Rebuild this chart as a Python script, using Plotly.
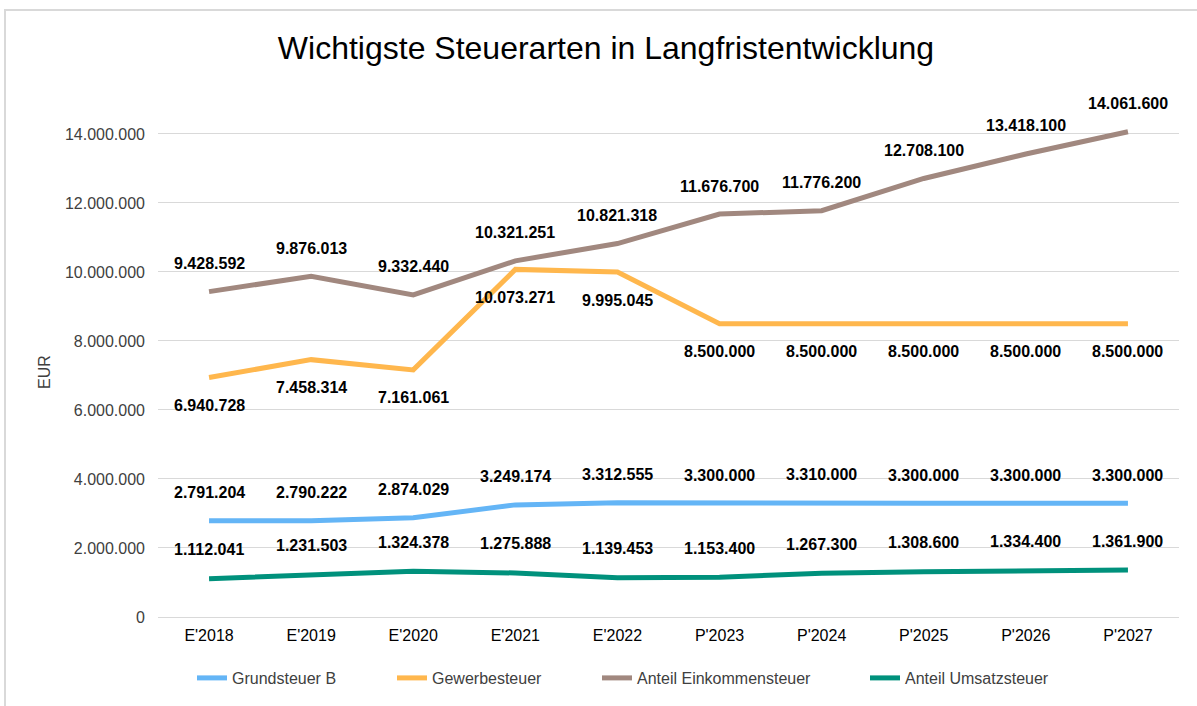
import plotly.graph_objects as go

categories = ["E'2018", "E'2019", "E'2020", "E'2021", "E'2022",
              "P'2023", "P'2024", "P'2025", "P'2026", "P'2027"]
grundsteuer_b = [2791204, 2790222, 2874029, 3249174, 3312555,
                 3300000, 3310000, 3300000, 3300000, 3300000]
gewerbesteuer = [6940728, 7458314, 7161061, 10073271, 9995045,
                 8500000, 8500000, 8500000, 8500000, 8500000]
einkommensteuer = [9428592, 9876013, 9332440, 10321251, 10821318,
                   11676700, 11776200, 12708100, 13418100, 14061600]
umsatzsteuer = [1112041, 1231503, 1324378, 1275888, 1139453,
                1153400, 1267300, 1308600, 1334400, 1361900]
y_ticks = [0, 2000000, 4000000, 6000000, 8000000, 10000000, 12000000, 14000000]

FONT = "Liberation Sans, Arial, sans-serif"
W, H = 1197, 706
L, R, T, B = 158, 18, 127, 89
PW, PH = W - L - R, H - T - B

series = [
    ("Grundsteuer B", grundsteuer_b, "#64B5F6", 28, "legend", 192),
    ("Gewerbesteuer", gewerbesteuer, "#FFB74D", -28, "legend2", 392),
    ("Anteil Einkommensteuer", einkommensteuer, "#A1887F", 28, "legend3", 597),
    ("Anteil Umsatzsteuer", umsatzsteuer, "#00917C", 29, "legend4", 865),
]

def fmt(v):
    return f"{v:,}".replace(",", ".")

fig = go.Figure()
annotations = []
legends = {}
for name, vals, color, shift, leg, lx in series:
    fig.add_trace(go.Scatter(x=categories, y=vals, name=name, mode="lines",
                             line=dict(color=color, width=5),
                             legend=leg, showlegend=True, hoverinfo="x+y+name"))
    legends[leg] = dict(orientation="h", x=(lx - L) / PW, xanchor="left",
                        y=(T + PH - 678) / PH, yanchor="middle",
                        font=dict(family=FONT, size=16, color="#404040"),
                        bgcolor="rgba(0,0,0,0)", visible=True)
    for c, v in zip(categories, vals):
        annotations.append(dict(x=c, y=v, text=fmt(v), showarrow=False,
                                yshift=shift, xref="x", yref="y",
                                font=dict(family=FONT, size=16,
                                          color="#000000", weight="bold")))

fig.update_layout(
    width=W, height=H,
    showlegend=True,
    margin=dict(l=L, r=R, t=T, b=B, autoexpand=False),
    paper_bgcolor="white", plot_bgcolor="white",
    separators=",.",
    font=dict(family=FONT, size=16, color="#404040"),
    title=dict(text="Wichtigste Steuerarten in Langfristentwicklung",
               x=606 / W, xref="container", xanchor="center",
               y=1 - 48 / H, yref="container", yanchor="middle",
               font=dict(family=FONT, size=32, color="#000000")),
    xaxis=dict(showgrid=False, showline=False, ticks="",
               range=[-0.5, len(categories) - 0.5], ticklabelstandoff=7,
               tickfont=dict(family=FONT, size=16, color="#000000")),
    yaxis=dict(range=[0, 14200000], tickvals=y_ticks, tickformat=",d",
               showgrid=True, gridcolor="#D9D9D9", gridwidth=1,
               zeroline=True, zerolinecolor="#D9D9D9", zerolinewidth=1,
               ticks="", ticklabelstandoff=12,
               tickfont=dict(family=FONT, size=16, color="#404040"),
               title=dict(text="EUR", font=dict(family=FONT, size=16, color="#404040"),
                          standoff=10)),
    annotations=annotations,
    shapes=[dict(type="rect", xref="paper", yref="paper",
                 x0=(5 - L) / PW, x1=(1205 - L) / PW,
                 y0=(T + PH - 712) / PH, y1=(T + PH - 10) / PH,
                 line=dict(color="#D9D9D9", width=2), fillcolor="rgba(0,0,0,0)",
                 layer="below")],
    **legends,
)

fig.write_html("out.html", config={"displayModeBar": False},
               post_script="document.body.style.margin='0';")
